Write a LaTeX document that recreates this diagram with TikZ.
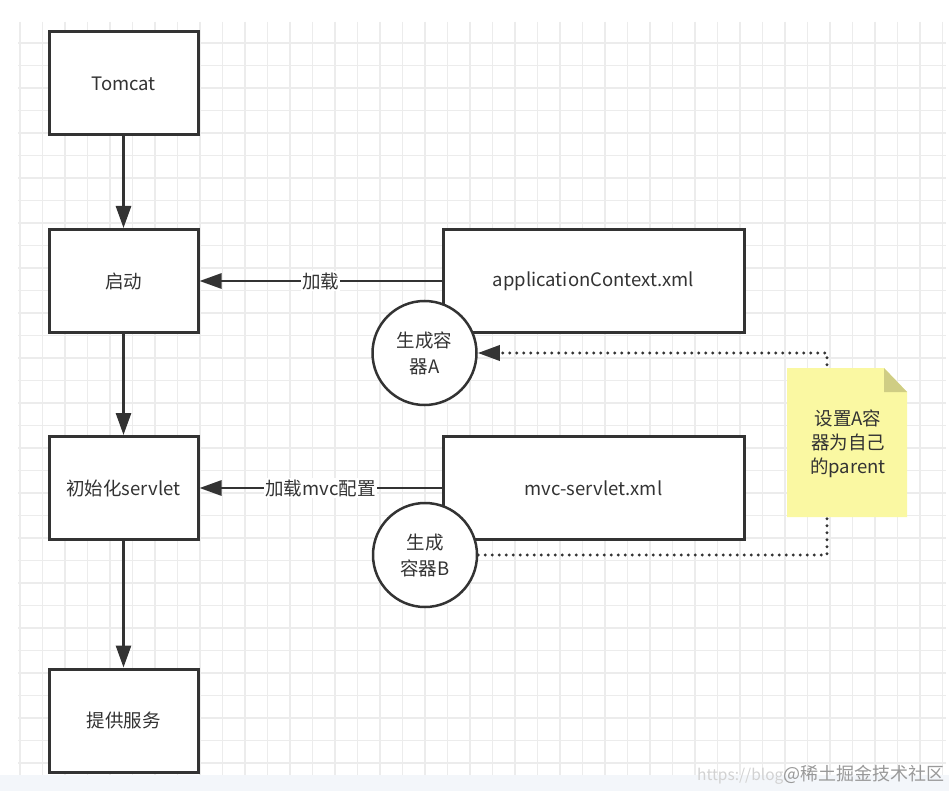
\documentclass[tikz,border=0pt]{standalone}
\usepackage{fontspec}
\setmainfont{Noto Sans CJK SC}
\usetikzlibrary{arrows.meta}
\definecolor{ink}{HTML}{333333}
\definecolor{gridc}{HTML}{ECECEC}
\definecolor{stripc}{HTML}{F3F6FA}
\definecolor{notefill}{HTML}{FAF8A2}
\definecolor{foldfill}{HTML}{CFCD84}
\tikzset{
  box/.style={draw=ink, line width=3pt, fill=white, minimum width=149pt, minimum height=103pt, text=ink, font=\fontsize{18.5}{26}\selectfont, align=center},
  widebox/.style={box, minimum width=301pt},
  ring/.style={circle, draw=ink, line width=2.5pt, fill=white, minimum size=104pt, inner sep=0pt, text=ink, font=\fontsize{18.5}{26}\selectfont, align=center},
  conn/.style={draw=ink, line width=2.8pt, -{Triangle[length=22pt,width=15pt]}},
  lbl/.style={fill=white, text=ink, inner sep=1pt, font=\fontsize{18.5}{22}\selectfont},
  dotline/.style={draw=ink, line width=3.4pt, line cap=round, dash pattern=on 0pt off 7pt, -{Triangle[length=22pt,width=15pt]}},
  gridline/.style={draw=gridc, line width=1.2pt}
}
\begin{document}
\begin{tikzpicture}[x=1pt,y=-1pt]
\useasboundingbox (0,0) rectangle (949,791);
\fill[white] (0,0) rectangle (949,791);
% grid
\foreach \i in {0,...,41} \draw[gridline] ({20+22.5*\i},22) -- ({20+22.5*\i},775);
\foreach \j in {0,...,32} \draw[gridline] (18,{43+22.5*\j}) -- (946,{43+22.5*\j});
\fill[stripc] (0,775) rectangle (949,791);

% main column
\node[box] (tomcat) at (123.5,83.5) {Tomcat};
\node[box] (start) at (123.5,281) {启动};
\node[box] (init) at (123.5,488) {初始化servlet};
\node[box] (serve) at (123.5,720.5) {提供服务};

% xml boxes
\node[widebox] (app) at (593.5,281) {applicationContext.xml};
\node[widebox] (mvc) at (593.5,488) {mvc-servlet.xml};

% circles
\node[ring] (ca) at (424.5,353) {生成容\\器A};
\node[ring] (cb) at (425,555) {生成\\容器B};

% vertical connectors
\draw[conn] (tomcat) -- (start);
\draw[conn] (start) -- (init);
\draw[conn] (init) -- (serve);

% horizontal connectors
\draw[conn] (app.west) -- node[lbl] {加载} (start.east);
\draw[conn] (mvc.west) -- node[lbl] {加载mvc配置} (init.east);

% dotted parent link
\coordinate (d1) at (827,555);
\coordinate (d2) at (827,353);
\draw[dotline] (cb.east) -- (d1) -- (d2) -- (ca.east);

% note
\fill[notefill] (787,368) -- (884,368) -- (907,392) -- (907,517) -- (787,517) -- cycle;
\fill[foldfill] (884,368) -- (884,392) -- (907,392) -- cycle;
\node[text=ink, align=center, font=\fontsize{18.5}{24}\selectfont] (note) at (848,444) {设置A容\\器为自己\\的parent};

% watermark
\node[anchor=base west, text=gray!35, inner sep=0pt, font=\fontsize{15.5}{16}\selectfont] (wm1) at (697,780) {https://blog.};
\node[anchor=base east, text=gray!80, inner sep=0pt, font=\fontsize{18}{18}\selectfont] (wm2) at (945,780) {@稀土掘金技术社区};
\end{tikzpicture}
\end{document}
